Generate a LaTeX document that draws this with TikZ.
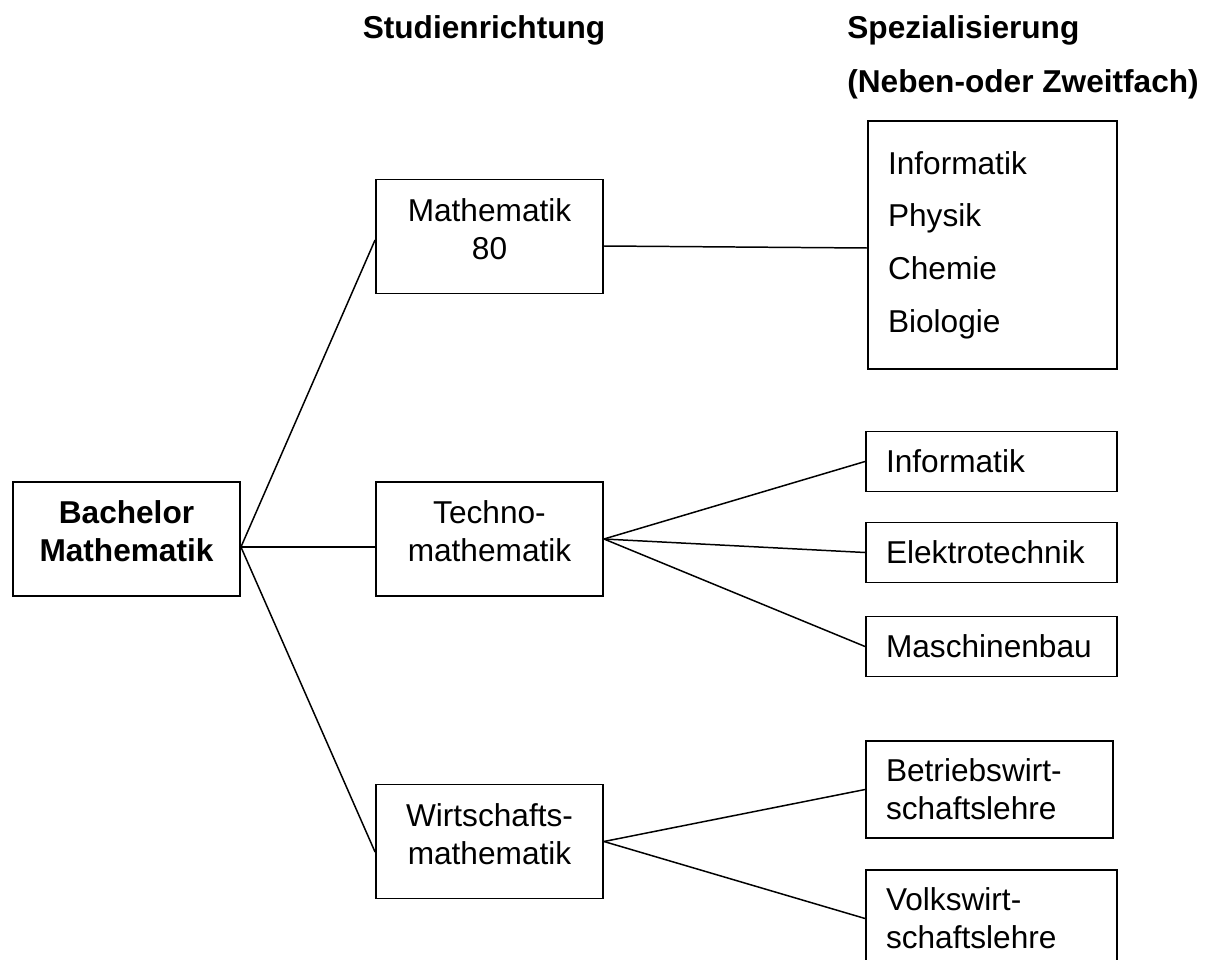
\documentclass[tikz,border=0pt]{standalone}
\usepackage{fontspec}
\setmainfont{Liberation Sans}
\usetikzlibrary{shapes}
\tikzstyle{kopf} = [font=\fontsize{18}{21.6}\selectfont\bfseries, inner sep=0pt]
\tikzstyle{studium} = [rectangle, minimum width=4.54cm, minimum height=2.28cm, text centered, align=center, draw=black, line width=1.1pt, font=\fontsize{18}{21.6}\selectfont, execute at end node={\rule[-9pt]{0pt}{0pt}}]
\tikzstyle{fach} = [rectangle, minimum width=5.02cm, minimum height=1.2cm, text width=4.22cm, inner xsep=0.4cm, align=left, draw=black, line width=1.1pt, font=\fontsize{18}{21.6}\selectfont]
\tikzstyle{linie} = [line width=0.85pt]

\begin{document}
\begin{tikzpicture}[x=0.02cm, y=-0.02cm]
        \path[use as bounding box, clip] (0,0) rectangle (1214,960);
        % Kopfzeile
        \node (kopfstudium) [kopf, anchor=base] at (484,38) {Studienrichtung};
        \node (kopfspez) [kopf, anchor=base west] at (847,38) {Spezialisierung};
        \node (kopfneben) [kopf, anchor=base west] at (847,92) {(Neben-oder Zweitfach)};
        % Studienrichtungen
        \node (bachelor) [studium, font=\fontsize{18}{21.6}\selectfont\bfseries] at (126.5,539) {Bachelor\\Mathematik};
        \node (mathe) [studium] at (489.5,236.5) {Mathematik\\80};
        \node (techno) [studium] at (489.5,539) {Techno-\\mathematik};
        \node (wirt) [studium] at (489.5,841.5) {Wirtschafts-\\mathematik};
        % Spezialisierungen
        \node (nebenfach) [fach, minimum width=4.98cm, text width=4.18cm, minimum height=4.96cm, font=\fontsize{18}{30}\selectfont] at (992.5,245) {Informatik\\Physik\\Chemie\\Biologie};
        \node (info) [fach] at (991.5,461.5) {Informatik};
        \node (elektro) [fach] at (991.5,552.5) {Elektrotechnik};
        \node (masch) [fach] at (991.5,646.5) {Maschinenbau};
        \node (bwl) [fach, minimum width=4.94cm, text width=4.14cm, minimum height=1.94cm] at (989.5,789.5) {Betriebswirt-\\schaftslehre};
        \node (vwl) [fach, minimum height=1.94cm] at (991.5,918.5) {Volkswirt-\\schaftslehre};
        \draw [linie] ([yshift=-0.16cm]bachelor.east) -- ([yshift=-0.07cm]mathe.west);
        \draw [linie] ([yshift=-0.16cm]bachelor.east) -- ([yshift=-0.16cm]techno.west);
        \draw [linie] ([yshift=-0.16cm]bachelor.east) -- ([yshift=-0.21cm]wirt.west);
        \draw [linie] ([yshift=-0.19cm]mathe.east) -- ([yshift=-0.06cm]nebenfach.west);
        \draw [linie] (techno.east) -- (info.west);
        \draw [linie] (techno.east) -- (elektro.west);
        \draw [linie] (techno.east) -- (masch.west);
        \draw [linie] (wirt.east) -- (bwl.west);
        \draw [linie] (wirt.east) -- (vwl.west);
    \end{tikzpicture}
\end{document}
